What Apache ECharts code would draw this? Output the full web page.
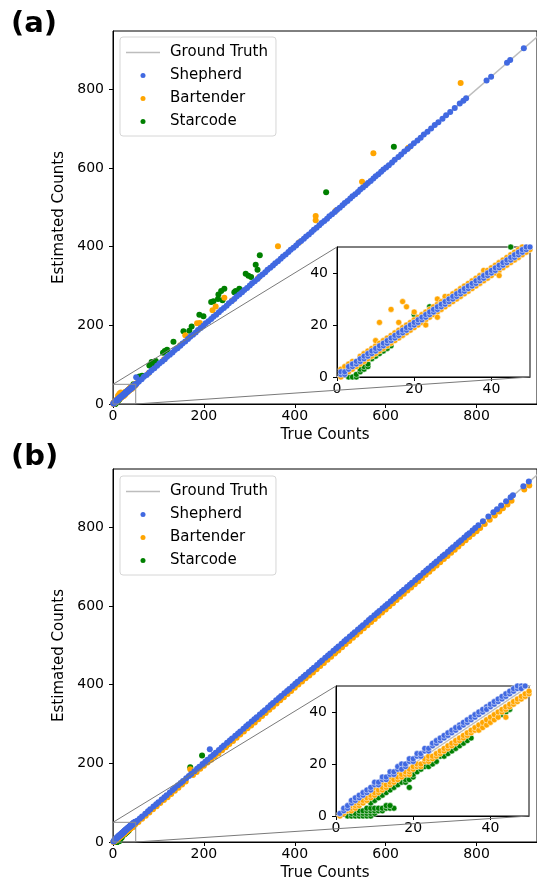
<!DOCTYPE html>
<html>
<head>
<meta charset="utf-8">
<script src="https://cdn.jsdelivr.net/npm/echarts@6/dist/echarts.min.js"></script>
<style>
html, body { margin: 0; padding: 0; background: #fff; }
#chart { width: 537px; height: 884px; }
</style>
</head>
<body>
<div id="chart"></div>
<script>
// tick labels
var mainTicks = [0, 200, 400, 600, 800];
var insetTicks = [0, 20, 40];
var zoomBox = [0, 50];
var groundTruth = [[0, 0], [1000, 1000]];

// ---- panel (a) : counts 0-50 ----
var shepherdALow = [[1,1],[1,2],[2,1],[2,2],[3,3],[3,4],[4,4],[4,5],[5,5],[5,6],[6,6],[6,7],[7,7],[7,8],[8,8],[8,9],[9,9],[9,10],[10,10],[10,11],[11,11],[11,12],[12,12],[12,13],[13,13],[13,14],[14,14],[14,15],[15,15],[15,16],[16,16],[16,17],[17,17],[17,18],[18,18],[18,19],[19,19],[19,20],[20,20],[20,21],[21,21],[21,22],[22,22],[22,23],[23,23],[23,24],[24,24],[24,25],[25,25],[25,26],[26,26],[26,27],[27,27],[27,28],[28,28],[28,29],[29,29],[29,30],[30,30],[30,31],[31,31],[31,32],[32,32],[32,33],[33,33],[33,34],[34,34],[34,35],[35,35],[35,36],[36,36],[36,37],[37,37],[37,38],[38,38],[38,39],[39,39],[39,40],[40,40],[40,41],[41,41],[41,42],[42,42],[42,43],[43,43],[43,44],[44,44],[44,45],[45,45],[45,46],[46,46],[46,47],[47,47],[47,48],[48,48],[48,49],[49,49],[49,50],[50,50]];
var bartenderALow = [[1,3],[1,0],[2,4],[2,1],[3,5],[3,2],[4,6],[4,3],[5,6],[5,4],[6,8],[6,5],[7,9],[7,6],[8,10],[8,7],[9,11],[9,8],[10,12],[10,9],[10,14],[11,13],[11,10],[11,21],[12,14],[12,11],[13,15],[13,12],[14,16],[14,13],[14,26],[15,17],[15,14],[16,18],[16,15],[16,21],[17,19],[17,16],[17,29],[18,20],[18,17],[18,27],[19,21],[19,18],[20,22],[20,19],[20,25],[21,23],[21,20],[22,24],[22,21],[23,25],[23,22],[23,20],[24,26],[24,23],[25,27],[25,24],[26,28],[26,25],[26,23],[26,30],[27,29],[27,26],[28,30],[28,27],[28,31],[29,31],[29,28],[30,32],[30,29],[31,33],[31,30],[32,34],[32,31],[33,35],[33,32],[34,36],[34,33],[35,37],[35,34],[36,38],[36,35],[37,39],[37,36],[38,40],[38,37],[38,41],[39,41],[39,38],[40,42],[40,39],[41,43],[41,40],[42,44],[42,41],[42,39],[43,45],[43,42],[44,46],[44,43],[45,47],[45,44],[46,48],[46,45],[47,49],[47,46],[48,50],[48,47],[49,51],[49,48],[50,51],[50,49]];
var starcodeALow = [[3,0],[4,0],[5,0],[5,1],[6,2],[6,3],[7,3],[7,4],[8,4],[8,5],[9,7],[10,8],[11,9],[12,10],[13,11],[14,12],[20,24],[24,27],[34,35],[45,50]];

// ---- panel (a) : counts above 50 ----
var shepherdAHigh = [[51,68],[52,52],[57,57],[63,63],[68,69],[74,74],[80,80],[85,86],[91,91],[97,97],[102,103],[108,108],[114,114],[119,120],[125,125],[131,131],[136,137],[142,142],[148,148],[153,154],[159,159],[165,165],[170,171],[176,176],[182,182],[187,188],[193,193],[199,199],[204,205],[210,210],[216,216],[221,222],[227,227],[233,233],[238,239],[244,244],[250,250],[255,256],[261,261],[267,267],[272,273],[278,278],[284,284],[289,290],[295,295],[301,301],[306,307],[312,312],[318,318],[323,324],[329,329],[335,335],[340,341],[346,346],[352,352],[357,358],[363,363],[369,369],[374,375],[380,380],[386,386],[391,392],[397,397],[403,403],[408,409],[414,414],[420,420],[425,426],[431,431],[437,437],[442,443],[448,448],[454,454],[459,460],[465,465],[471,471],[476,477],[482,482],[488,488],[493,494],[499,499],[505,505],[510,511],[516,516],[522,522],[527,528],[533,533],[539,539],[544,545],[550,550],[556,556],[561,562],[567,567],[573,573],[578,579],[584,584],[590,590],[595,596],[601,601],[607,607],[614,614],[620,621],[628,628],[634,634],[641,642],[648,648],[655,655],[662,663],[670,670],[677,677],[684,685],[692,692],[700,700],[708,709],[716,716],[725,725],[733,734],[742,742],[752,752],[763,764],[771,771],[777,777],[822,822],[832,832],[867,867],[874,874],[904,904]];
var bartenderAHigh = [[55,56],[78,78],[112,113],[148,149],[159,175],[185,205],[191,206],[219,238],[226,248],[245,270],[262,263],[320,321],[363,401],[410,411],[446,467],[446,478],[490,491],[548,565],[573,637],[650,651],[765,816]];
var starcodeAHigh = [[58,70],[64,72],[80,98],[85,107],[88,103],[94,109],[110,130],[114,135],[119,138],[133,158],[155,185],[168,186],[173,197],[190,227],[199,223],[216,259],[221,261],[231,267],[232,278],[238,287],[241,264],[245,293],[267,284],[270,287],[278,293],[292,331],[298,326],[304,323],[314,354],[318,341],[323,378],[469,538],[618,654]];

// ---- panel (b) : counts 0-50 ----
var shepherdBLow = [[1,1],[2,2],[2,3],[3,3],[3,4],[4,5],[4,6],[5,6],[5,7],[6,7],[6,8],[7,8],[7,9],[8,9],[8,10],[9,10],[9,11],[10,12],[10,13],[11,12],[11,13],[12,14],[12,15],[13,14],[13,15],[14,16],[14,17],[15,16],[15,17],[16,18],[16,19],[17,20],[17,18],[18,19],[18,20],[19,21],[19,22],[20,21],[20,22],[21,23],[21,24],[22,23],[22,24],[23,25],[23,26],[24,25],[24,26],[25,27],[25,28],[26,28],[26,29],[27,29],[27,30],[28,30],[28,31],[29,31],[29,32],[30,32],[30,33],[31,33],[31,34],[32,35],[32,34],[33,35],[33,36],[34,36],[34,37],[35,37],[35,38],[36,38],[36,39],[37,39],[37,40],[38,40],[38,41],[39,42],[39,41],[40,42],[40,43],[41,43],[41,44],[42,44],[42,45],[43,45],[43,46],[44,46],[44,47],[45,47],[45,48],[46,48],[46,49],[47,49],[47,50],[48,50],[48,49],[49,50],[49,51],[50,51]];
var bartenderBLow = [[1,0],[1,1],[2,1],[2,2],[3,2],[3,3],[4,2],[4,3],[4,4],[5,3],[5,4],[5,5],[6,4],[6,5],[6,6],[7,5],[7,6],[7,8],[8,6],[8,7],[8,9],[9,7],[9,8],[9,10],[10,8],[10,9],[10,11],[11,9],[11,10],[11,12],[12,10],[12,11],[12,13],[13,11],[13,12],[13,14],[14,12],[14,13],[14,15],[15,13],[15,14],[15,16],[16,14],[16,15],[16,17],[17,15],[17,16],[17,18],[18,16],[18,17],[18,19],[19,16],[19,17],[19,18],[20,18],[20,19],[21,19],[21,20],[22,19],[22,20],[23,21],[23,22],[24,21],[24,22],[24,23],[25,22],[25,23],[25,27],[26,23],[26,24],[26,28],[27,24],[27,25],[28,25],[28,26],[29,26],[29,27],[30,27],[30,28],[31,28],[31,29],[32,29],[32,30],[33,30],[33,31],[34,31],[34,32],[35,32],[35,33],[36,33],[36,34],[37,33],[37,35],[38,34],[38,36],[39,35],[39,37],[40,36],[40,38],[41,37],[41,39],[42,38],[42,40],[43,40],[43,41],[44,38],[44,41],[44,42],[45,42],[45,43],[46,43],[46,44],[47,44],[47,45],[48,45],[48,46],[49,46],[49,47],[50,47],[50,48]];
var starcodeBLow = [[3,0],[4,0],[5,0],[6,0],[7,0],[8,0],[9,0],[4,1],[5,1],[6,1],[7,1],[8,1],[9,1],[10,1],[6,2],[7,2],[8,2],[9,2],[10,2],[11,2],[12,2],[8,3],[9,3],[10,3],[11,3],[12,3],[13,3],[14,3],[15,3],[13,4],[14,4],[9,5],[10,6],[11,7],[12,8],[13,9],[14,10],[15,11],[16,12],[17,13],[18,13],[18,14],[19,11],[19,14],[20,15],[20,16],[21,17],[22,18],[23,19],[24,19],[25,20],[26,21],[27,23],[28,23],[29,24],[30,25],[31,26],[32,27],[33,28],[34,29],[35,30],[43,39],[44,40],[45,41]];

// ---- panel (b) : counts above 50 ----
var shepherdBHigh = [[53,54],[59,60],[64,65],[71,72],[77,78],[82,83],[89,90],[95,96],[100,101],[107,108],[113,114],[118,119],[125,126],[131,132],[136,137],[143,144],[149,150],[154,155],[161,162],[167,168],[172,173],[179,180],[185,186],[190,191],[197,198],[203,204],[208,209],[215,216],[221,222],[226,227],[233,234],[239,240],[244,245],[251,252],[257,258],[262,263],[269,270],[275,276],[280,281],[287,288],[293,294],[298,299],[305,306],[311,312],[316,317],[323,324],[329,330],[334,335],[341,342],[347,348],[352,353],[359,360],[365,366],[370,371],[377,378],[383,384],[388,389],[395,396],[401,402],[406,407],[413,414],[419,420],[424,425],[431,432],[437,438],[442,443],[449,450],[455,456],[460,461],[467,468],[473,474],[478,479],[485,486],[491,492],[496,497],[503,504],[509,510],[514,515],[521,522],[527,528],[532,533],[539,540],[545,546],[550,551],[557,558],[563,564],[568,569],[575,576],[581,582],[586,587],[593,594],[599,600],[604,605],[611,612],[617,618],[622,623],[629,630],[635,636],[640,641],[647,648],[653,654],[658,659],[665,666],[671,672],[676,677],[683,684],[689,690],[694,695],[701,702],[707,708],[712,713],[719,720],[725,726],[730,731],[737,738],[743,744],[748,749],[755,756],[761,762],[766,767],[773,774],[779,780],[784,785],[791,792],[797,798],[804,805],[814,815],[826,827],[837,838],[845,846],[854,855],[865,866],[875,876],[880,881],[903,904],[915,916],[213,236]];
var bartenderBHigh = [[56,51],[64,59],[72,67],[80,75],[88,83],[96,91],[104,99],[112,107],[120,114],[128,122],[136,130],[144,138],[152,146],[160,154],[170,185],[176,170],[184,178],[192,186],[200,194],[208,202],[216,209],[224,217],[232,225],[240,233],[248,241],[256,249],[264,257],[272,265],[280,273],[288,281],[296,289],[304,296],[312,304],[320,312],[328,320],[336,328],[344,336],[352,344],[360,352],[368,360],[376,368],[384,376],[392,384],[400,392],[408,400],[416,408],[424,416],[432,423],[440,431],[448,439],[456,447],[464,455],[472,463],[480,471],[488,479],[496,487],[504,495],[512,503],[520,511],[528,519],[536,527],[544,535],[552,543],[560,551],[568,559],[576,567],[584,575],[592,583],[600,591],[608,599],[616,607],[624,615],[632,623],[640,631],[648,639],[656,647],[664,655],[672,663],[680,671],[688,679],[696,687],[704,695],[712,703],[720,711],[728,719],[736,727],[744,735],[752,743],[760,751],[768,759],[776,767],[784,775],[792,783],[800,790],[808,798],[818,808],[829,819],[840,830],[850,840],[858,848],[868,858],[877,867],[905,896],[916,906]];
var starcodeBHigh = [[170,190],[196,220],[250,246],[330,326],[489,483],[600,596],[700,695]];

var FONT = 'DejaVu Sans';
var C_BLUE = '#4169e1', C_ORANGE = '#ffa500', C_GREEN = '#008000', C_GT = '#bdbdbd';
var MAIN_X_MAX = 933, MAIN_Y_MAX = 948;

var chart = echarts.init(document.getElementById('chart'));

function xAx(idx, max, ticks, name) {
    return {
        gridIndex: idx, type: 'value', min: 0, max: max,
        splitLine: { show: false },
        axisLine: { onZero: false, lineStyle: { color: '#000', width: 1 } },
        axisTick: { length: 4, customValues: ticks, lineStyle: { color: '#000' } },
        axisLabel: { customValues: ticks, color: '#000', fontSize: 14, fontFamily: FONT, margin: 5 },
        name: name, nameLocation: 'middle', nameGap: 24,
        nameTextStyle: { color: '#000', fontSize: 15, fontFamily: FONT }
    };
}
function yAx(idx, max, ticks, name) {
    return {
        gridIndex: idx, type: 'value', min: 0, max: max,
        splitLine: { show: false },
        axisLine: { onZero: false, lineStyle: { color: '#000', width: 1 } },
        axisTick: { length: 4, customValues: ticks, lineStyle: { color: '#000' } },
        axisLabel: { customValues: ticks, color: '#000', fontSize: 14, fontFamily: FONT, margin: 9 },
        name: name, nameLocation: 'middle', nameGap: 36,
        nameTextStyle: { color: '#000', fontSize: 15, fontFamily: FONT }
    };
}
function scatter(name, data, idx, color, z, size, edge) {
    return {
        name: name, type: 'scatter', xAxisIndex: idx, yAxisIndex: idx,
        data: data, symbolSize: size, z: z, clip: true, silent: true,
        itemStyle: { color: color, borderColor: '#fff', borderWidth: edge, opacity: 1 }
    };
}
function gtLine(idx) {
    return {
        name: 'Ground Truth', type: 'line', xAxisIndex: idx, yAxisIndex: idx,
        data: groundTruth, symbol: 'none', z: 1, silent: true,
        lineStyle: { color: C_GT, width: 1.5 }, itemStyle: { color: C_GT }
    };
}
function legendAt(top) {
    return {
        orient: 'vertical', left: 120, top: top,
        itemWidth: 34, itemHeight: 5, itemGap: 8,
        padding: [8, 8, 7, 6],
        borderColor: '#d6d6d6', borderWidth: 1, borderRadius: 3,
        backgroundColor: 'rgba(255,255,255,0.8)',
        textStyle: { color: '#000', fontSize: 15, fontFamily: FONT, padding: [0, 0, 0, 5] },
        data: [
            { name: 'Ground Truth', icon: 'path://M0,0H40V1.5H0Z' },
            { name: 'Shepherd', icon: 'circle' },
            { name: 'Bartender', icon: 'circle' },
            { name: 'Starcode', icon: 'circle' }
        ]
    };
}

var gridMain = { show: true, borderColor: '#000', borderWidth: 1, backgroundColor: '#fff' };
var option = {
    animation: false,
    grid: [
        Object.assign({ left: 113, top: 31, width: 426, height: 373 }, gridMain),
        Object.assign({ left: 337, top: 247, width: 193, height: 130 }, gridMain),
        Object.assign({ left: 113, top: 469, width: 426, height: 373 }, gridMain),
        Object.assign({ left: 336, top: 686, width: 193, height: 130 }, gridMain)
    ],
    xAxis: [
        xAx(0, MAIN_X_MAX, mainTicks, 'True Counts'),
        xAx(1, zoomBox[1], insetTicks, ''),
        xAx(2, MAIN_X_MAX, mainTicks, 'True Counts'),
        xAx(3, zoomBox[1], insetTicks, '')
    ],
    yAxis: [
        yAx(0, MAIN_Y_MAX, mainTicks, 'Estimated Counts'),
        yAx(1, zoomBox[1], insetTicks, ''),
        yAx(2, MAIN_Y_MAX, mainTicks, 'Estimated Counts'),
        yAx(3, zoomBox[1], insetTicks, '')
    ],
    legend: [legendAt(37), legendAt(476)],
    series: [
        gtLine(0),
        scatter('Starcode', starcodeALow.concat(starcodeAHigh), 0, C_GREEN, 2, 6, 0),
        scatter('Bartender', bartenderALow.concat(bartenderAHigh), 0, C_ORANGE, 3, 6, 0),
        scatter('Shepherd', shepherdALow.concat(shepherdAHigh), 0, C_BLUE, 4, 6, 0),
        gtLine(1),
        scatter('Starcode', starcodeALow, 1, C_GREEN, 2, 6, 0.5),
        scatter('Bartender', bartenderALow, 1, C_ORANGE, 3, 6, 0.5),
        scatter('Shepherd', shepherdALow, 1, C_BLUE, 4, 6, 0.5),
        gtLine(2),
        scatter('Starcode', starcodeBLow.concat(starcodeBHigh), 2, C_GREEN, 2, 6, 0),
        scatter('Bartender', bartenderBLow.concat(bartenderBHigh), 2, C_ORANGE, 3, 6, 0),
        scatter('Shepherd', shepherdBLow.concat(shepherdBHigh), 2, C_BLUE, 4, 6, 0),
        gtLine(3),
        scatter('Starcode', starcodeBLow, 3, C_GREEN, 2, 6, 0.5),
        scatter('Bartender', bartenderBLow, 3, C_ORANGE, 3, 6, 0.5),
        scatter('Shepherd', shepherdBLow, 3, C_BLUE, 4, 6, 0.5)
    ]
};
chart.setOption(option);

// zoom box in the main plot + connector lines to the inset
function insetDecor(mainIdx, insetIdx) {
    var lo = chart.convertToPixel({ gridIndex: mainIdx }, [zoomBox[0], zoomBox[0]]);
    var hi = chart.convertToPixel({ gridIndex: mainIdx }, [zoomBox[1], zoomBox[1]]);
    var insTL = chart.convertToPixel({ gridIndex: insetIdx }, [zoomBox[0], zoomBox[1]]);
    var insBR = chart.convertToPixel({ gridIndex: insetIdx }, [zoomBox[1], zoomBox[0]]);
    return [
        { type: 'rect', z: 50, silent: true,
          shape: { x: lo[0], y: hi[1], width: hi[0] - lo[0], height: lo[1] - hi[1] },
          style: { fill: null, stroke: '#8c8c8c', lineWidth: 1 } },
        { type: 'line', z: 50, silent: true,
          shape: { x1: lo[0], y1: hi[1], x2: insTL[0], y2: insTL[1] },
          style: { stroke: '#7a7a7a', lineWidth: 1 } },
        { type: 'line', z: 50, silent: true,
          shape: { x1: hi[0], y1: lo[1], x2: insBR[0], y2: insBR[1] },
          style: { stroke: '#7a7a7a', lineWidth: 1 } }
    ];
}
var graphics = [
    { type: 'text', left: 11, top: 10, style: { text: '(a)', font: 'bold 29px "DejaVu Sans"', fill: '#000' } },
    { type: 'text', left: 11, top: 443, style: { text: '(b)', font: 'bold 29px "DejaVu Sans"', fill: '#000' } }
].concat(insetDecor(0, 1), insetDecor(2, 3));
chart.setOption({ graphic: graphics });
</script>
</body>
</html>
